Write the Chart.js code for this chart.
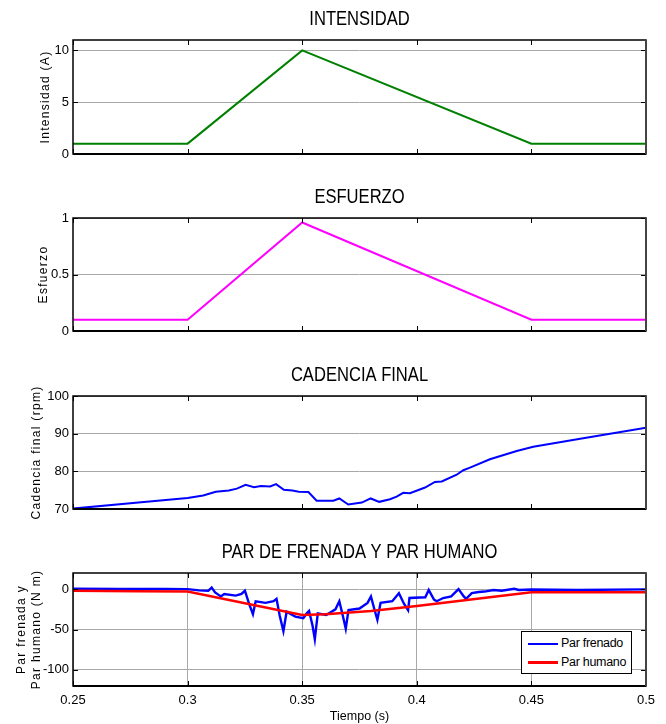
<!DOCTYPE html>
<html>
<head>
<meta charset="utf-8">
<script src="https://cdn.jsdelivr.net/npm/chart.js@4.4.1/dist/chart.umd.min.js"></script>
<style>
    body { margin: 0; background: #fff; width: 666px; height: 724px; position: relative; overflow: hidden; }
    canvas { position: absolute; left: 0; }
    #legend {
        position: absolute; left: 521px; top: 631px; width: 109px; height: 41px;
        border: 1px solid #000; background: #fff;
        font: 12.5px 'Liberation Sans', Arial, sans-serif; color: #000;
    }
    #legend .row { position: absolute; left: 6px; height: 18px; line-height: 18px; white-space: nowrap; letter-spacing: -0.3px; }
    #legend .swatch { display: inline-block; width: 30px; vertical-align: middle; margin-right: 3px; }
</style>
</head>
<body>
<canvas id="cInt" width="666" height="170" style="top:1px"></canvas>
<canvas id="cEsf" width="666" height="170" style="top:179px"></canvas>
<canvas id="cCad" width="666" height="170" style="top:357px"></canvas>
<canvas id="cPar" width="666" height="190" style="top:534px"></canvas>
<div id="legend"></div>

<script>
// =============================================================================
// Datos
// =============================================================================

const X_MIN = 0.25, X_MAX = 0.5;
const X_TICKS = [0.25, 0.3, 0.35, 0.4, 0.45, 0.5];

// INTENSIDAD
const INT_T = [0.25, 0.30, 0.35, 0.45, 0.50];
const INT_V = [1, 1, 10, 1, 1];
const INT_TICKS = [0, 5, 10];

// ESFUERZO
const ESF_T = [0.25, 0.30, 0.35, 0.45, 0.50];
const ESF_V = [0.1, 0.1, 0.96, 0.1, 0.1];
const ESF_TICKS = [0, 0.5, 1];

// CADENCIA FINAL
const CAD_T = [0.25, 0.275, 0.30, 0.3068, 0.3123, 0.318, 0.3215, 0.3253, 0.329, 0.332, 0.336, 0.3386,
               0.342, 0.3457, 0.3485, 0.3527, 0.3563, 0.3636, 0.3662, 0.3701, 0.376, 0.3799, 0.3836,
               0.3883, 0.3912, 0.3941, 0.397, 0.4036, 0.4079, 0.4109, 0.4174, 0.4203, 0.4232, 0.4319,
               0.4436, 0.4508, 0.4726, 0.5];
const CAD_V = [70.1, 71.5, 72.9, 73.6, 74.6, 74.9, 75.4, 76.4, 75.8, 76.1, 76.0, 76.6,
               75.1, 74.9, 74.6, 74.5, 72.2, 72.2, 72.8, 71.2, 71.7, 72.8, 71.9,
               72.6, 73.3, 74.3, 74.2, 75.7, 77.2, 77.3, 79.1, 80.3, 81.0, 83.2,
               85.4, 86.5, 88.8, 91.6];
const CAD_TICKS = [70, 80, 90, 100];

// PAR DE FRENADA Y PAR HUMANO
const FREN_T = [0.25, 0.27, 0.29, 0.30, 0.305, 0.309, 0.3105, 0.312, 0.3145, 0.316, 0.321, 0.3235, 0.325,
                0.3268, 0.3285, 0.3297, 0.334, 0.3375, 0.3388, 0.3402, 0.3418, 0.3432, 0.347, 0.3505,
                0.352, 0.353, 0.3545, 0.3555, 0.3568, 0.3605, 0.3645, 0.3662, 0.3678, 0.369, 0.3702,
                0.375, 0.3785, 0.38, 0.3814, 0.3828, 0.3842, 0.3893, 0.3922, 0.3944, 0.3962, 0.3968,
                0.4037, 0.4052, 0.4075, 0.4087, 0.4115, 0.415, 0.4182, 0.4205, 0.4215, 0.424, 0.427,
                0.4295, 0.4335, 0.437, 0.4425, 0.4445, 0.45, 0.47, 0.5];
const FREN_V = [0.5, 0.3, 0.2, 0, -1.5, -2, 2, -4, -9, -6, -8, -6, -2,
                -18, -31, -15, -17, -15, -12, -33, -52, -28, -34, -36,
                -30, -27, -45, -62, -30, -32, -25, -15, -34, -49, -26,
                -24, -17, -9, -24, -38, -17, -15, -5, -18, -26, -11,
                -10, -1, -13, -15, -11, -9, 0, -9, -12, -5, -3.5,
                -3, -1, -2, 0.5, -1, -0.5, -1, -0.3];
const HUM_T = [0.25, 0.278, 0.30, 0.35, 0.36, 0.38, 0.40, 0.45, 0.50];
const HUM_V = [-2, -2.5, -3, -32, -31, -27, -21, -4, -4];
const PAR_TICKS = [-100, -50, 0];

const SERIES_NAMES = ['Par frenado', 'Par humano'];
const SERIES_COLORS = ['#0000ff', '#ff0000'];

// =============================================================================
// Estilo
// =============================================================================

const ARIAL = "'Liberation Sans', Arial, sans-serif";
const GRID = '#a8a8a8';

const toPoints = (xs, ys) => xs.map((x, i) => ({ x, y: ys[i] }));

// caja, marcas interiores, título y etiqueta Y al estilo MATLAB
const matlabBox = {
    id: 'matlabBox',
    afterDraw(chart, args, opts) {
        const { ctx, chartArea: a, scales } = chart;
        ctx.save();

        ctx.strokeStyle = '#000';
        ctx.lineWidth = 1;
        ctx.beginPath();
        scales.x.ticks.forEach(t => {
            const px = Math.round(scales.x.getPixelForValue(t.value)) + 0.5;
            ctx.moveTo(px, a.top); ctx.lineTo(px, a.top + 5);
            ctx.moveTo(px, a.bottom); ctx.lineTo(px, a.bottom - 5);
        });
        scales.y.ticks.forEach(t => {
            const py = Math.round(scales.y.getPixelForValue(t.value)) + 0.5;
            ctx.moveTo(a.left, py); ctx.lineTo(a.left + 5, py);
            ctx.moveTo(a.right, py); ctx.lineTo(a.right - 5, py);
        });
        ctx.stroke();

        ctx.lineWidth = 1.5;
        ctx.strokeRect(a.left, a.top, a.right - a.left, a.bottom - a.top);
        ctx.lineWidth = 2;
        ctx.beginPath();
        ctx.moveTo(a.left, a.bottom); ctx.lineTo(a.right, a.bottom);
        ctx.stroke();
        ctx.strokeStyle = '#444';
        ctx.beginPath();
        ctx.moveTo(a.right, a.top); ctx.lineTo(a.right, a.bottom);
        ctx.stroke();

        ctx.fillStyle = '#000';
        ctx.textAlign = 'center';
        ctx.textBaseline = 'middle';
        if (opts.title) {
            // letra estrecha tipo Arial Narrow
            ctx.save();
            ctx.font = `19.5px ${ARIAL}`;
            ctx.translate((a.left + a.right) / 2, a.top - 20);
            ctx.scale(0.85, 1);
            ctx.fillText(opts.title, 0, 0);
            ctx.restore();
        }
        if (opts.yLabel) {
            ctx.font = `12px ${ARIAL}`;
            ctx.letterSpacing = '1.3px';
            opts.yLabel.forEach((line, i) => {
                ctx.save();
                ctx.translate(opts.yLabelX[i], (a.top + a.bottom) / 2);
                ctx.rotate(-Math.PI / 2);
                ctx.fillText(line, 0, 0);
                ctx.restore();
            });
        }
        ctx.restore();
    }
};

function makeConfig({ datasets, yMin, yMax, yTicks, title, yLabel, yLabelX, showX, bottom }) {
    return {
        type: 'line',
        data: { datasets },
        options: {
            responsive: false,
            animation: false,
            events: [],
            layout: { padding: { top: 39, right: 20, left: 0, bottom: 0 } },
            plugins: {
                legend: { display: false },
                tooltip: { enabled: false },
                matlabBox: { title, yLabel, yLabelX }
            },
            elements: { point: { radius: 0 }, line: { tension: 0 } },
            scales: {
                x: {
                    type: 'linear',
                    min: X_MIN,
                    max: X_MAX,
                    afterBuildTicks: s => { s.ticks = X_TICKS.map(v => ({ value: v })); },
                    afterFit: s => { s.height = bottom; },
                    border: { display: false },
                    grid: { display: showX, color: GRID, drawTicks: false },
                    ticks: {
                        display: showX,
                        padding: 7,
                        maxRotation: 0,
                        autoSkip: false,
                        color: '#000',
                        font: { family: ARIAL, size: 13 },
                        callback: v => String(+v.toFixed(2))
                    },
                    title: {
                        display: showX,
                        text: 'Tiempo (s)',
                        color: '#000',
                        font: { family: ARIAL, size: 12.5 },
                        padding: { top: 0, bottom: 0 }
                    }
                },
                y: {
                    type: 'linear',
                    min: yMin,
                    max: yMax,
                    afterBuildTicks: s => { s.ticks = yTicks.map(v => ({ value: v })); },
                    afterFit: s => { s.width = 73; },
                    border: { display: false },
                    grid: { color: GRID, drawTicks: false },
                    ticks: {
                        padding: 4,
                        color: '#000',
                        font: { family: ARIAL, size: 13 },
                        callback: v => String(v)
                    }
                }
            }
        },
        plugins: [matlabBox]
    };
}

const lineSet = (label, xs, ys, color, width, order) => ({
    label,
    data: toPoints(xs, ys),
    borderColor: color,
    backgroundColor: color,
    borderWidth: width,
    order,
    fill: false
});

new Chart(document.getElementById('cInt'), makeConfig({
    datasets: [lineSet('Intensidad', INT_T, INT_V, '#008000', 2, 0)],
    yMin: 0, yMax: 11, yTicks: INT_TICKS,
    title: 'INTENSIDAD', yLabel: ['Intensidad (A)'], yLabelX: [46],
    showX: false, bottom: 17
}));

new Chart(document.getElementById('cEsf'), makeConfig({
    datasets: [lineSet('Esfuerzo', ESF_T, ESF_V, '#ff00ff', 2, 0)],
    yMin: 0, yMax: 1, yTicks: ESF_TICKS,
    title: 'ESFUERZO', yLabel: ['Esfuerzo'], yLabelX: [44],
    showX: false, bottom: 18
}));

new Chart(document.getElementById('cCad'), makeConfig({
    datasets: [lineSet('Cadencia final', CAD_T, CAD_V, '#0000ff', 2, 0)],
    yMin: 70, yMax: 100, yTicks: CAD_TICKS,
    title: 'CADENCIA FINAL', yLabel: ['Cadencia final (rpm)'], yLabelX: [37],
    showX: false, bottom: 18
}));

new Chart(document.getElementById('cPar'), makeConfig({
    datasets: [
        lineSet(SERIES_NAMES[0], FREN_T, FREN_V, SERIES_COLORS[0], 2.4, 1),
        lineSet(SERIES_NAMES[1], HUM_T, HUM_V, SERIES_COLORS[1], 2.5, 0)
    ],
    yMin: -120, yMax: 20, yTicks: PAR_TICKS,
    title: 'PAR DE FRENADA Y PAR HUMANO', yLabel: ['Par frenada y', 'Par humano (N m)'], yLabelX: [22, 37],
    showX: true, bottom: 38
}));

// leyenda en HTML dentro del último eje
document.getElementById('legend').innerHTML = SERIES_NAMES.map((name, i) => `
    <div class="row" style="top:${2 + i * 19}px">
        <span class="swatch" style="border-top:${i ? 3 : 2}px solid ${SERIES_COLORS[i]}"></span>${name}
    </div>`).join('');
</script>
</body>
</html>
